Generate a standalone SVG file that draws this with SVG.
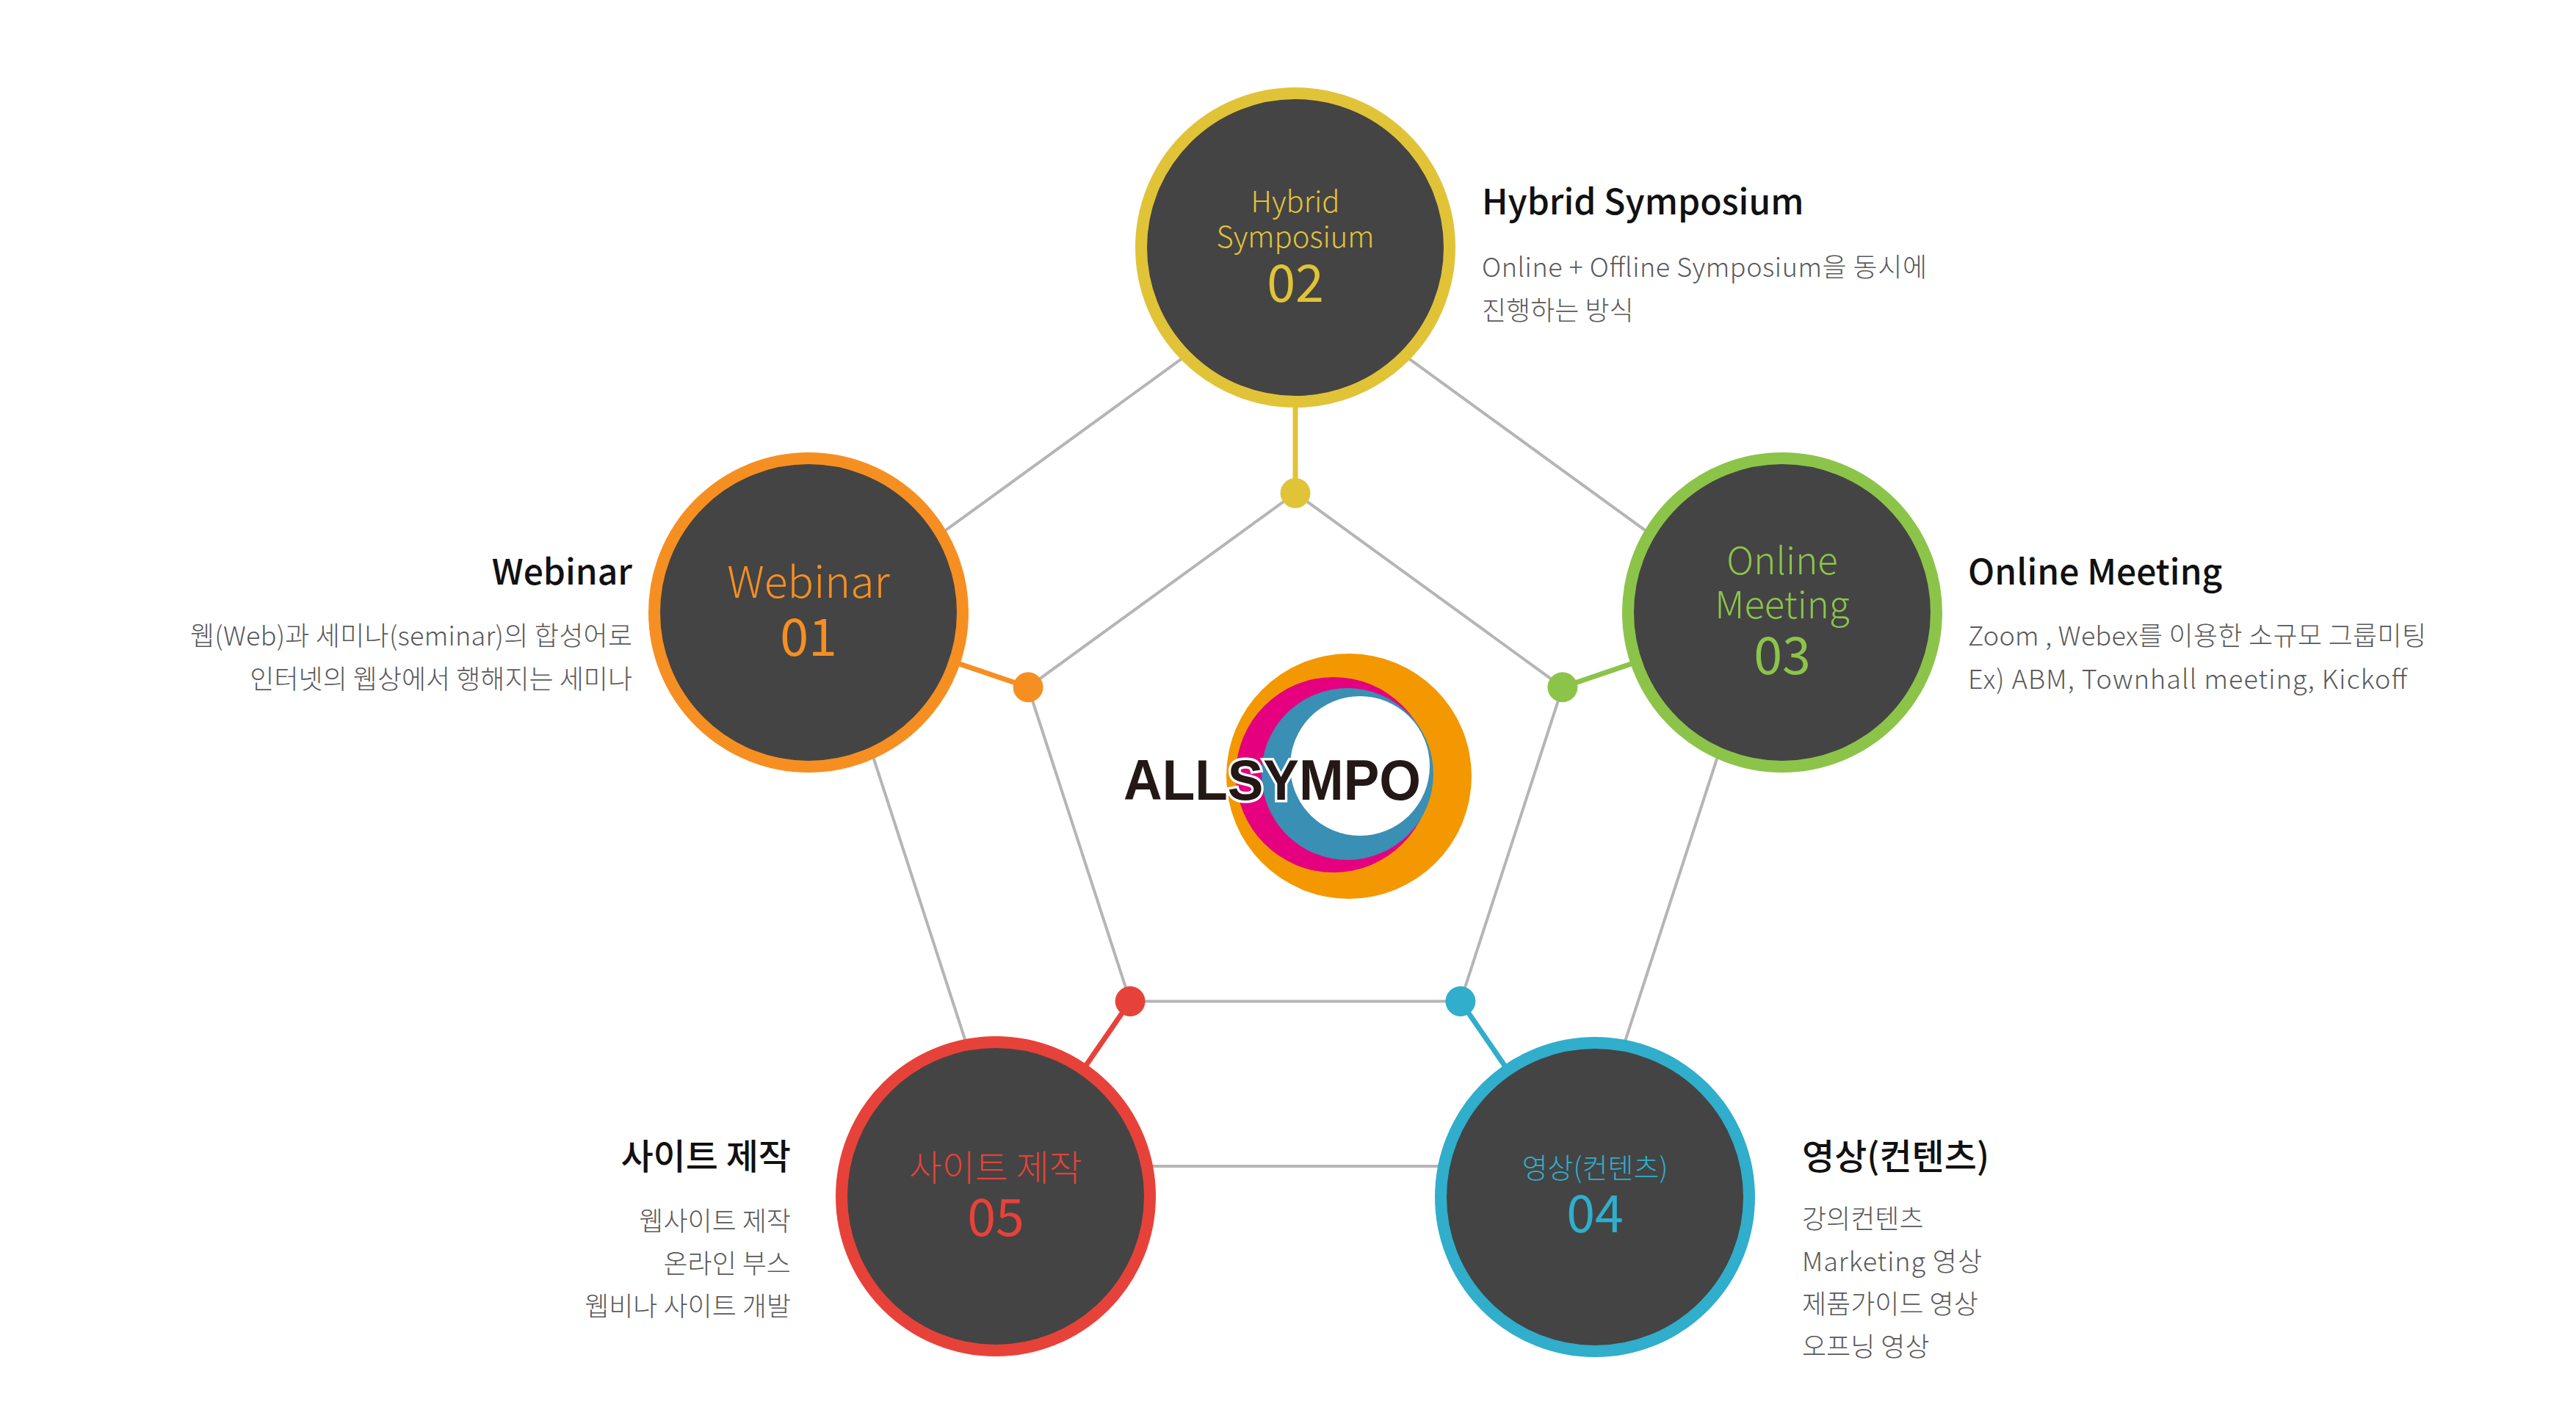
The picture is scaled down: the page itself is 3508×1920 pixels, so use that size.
<svg xmlns="http://www.w3.org/2000/svg" width="3508" height="1920" viewBox="0 0 3508 1920">
<style>
.bg{fill:#ffffff}
.gray{stroke:#b5b5b5;stroke-width:4;fill:none}
.ring{fill:#444444;stroke-width:16}
.lbl{font-family:"Noto Sans CJK KR","Noto Sans",sans-serif;font-weight:300;text-anchor:middle}
.num{font-family:"Noto Sans CJK KR","Noto Sans",sans-serif;font-weight:400;text-anchor:middle;font-size:70px}
.ttl{font-family:"Noto Sans CJK KR","Noto Sans",sans-serif;font-weight:500;font-size:48px;fill:#111111}
.dsc{font-family:"Noto Sans CJK KR","Noto Sans",sans-serif;font-weight:300;font-size:36px;fill:#595959}
.end{text-anchor:end}
.c1{stroke:#F68F22;fill:#F68F22}
.c2{stroke:#E1C338;fill:#E1C338}
.c3{stroke:#8CC44A;fill:#8CC44A}
.c4{stroke:#30AECC;fill:#30AECC}
.c5{stroke:#E74239;fill:#E74239}
.conn{stroke-width:7}
</style>
<rect class="bg" x="0" y="0" width="3508" height="1920"/>

<g id="connectors">
  <polygon class="gray" points="1764,376 2401.2,839 2157.8,1588 1370.2,1588 1126.8,839"/>
  <polygon class="gray" points="1764,671.4 2127.9,935.8 1988.9,1363.5 1539.1,1363.5 1400.1,935.8"/>
  <line class="c2 conn" x1="1764" y1="337" x2="1764" y2="671.4"/>
  <line class="c1 conn" x1="1101" y1="834" x2="1400.1" y2="935.8"/>
  <line class="c3 conn" x1="2427" y1="834" x2="2127.9" y2="935.8"/>
  <line class="c5 conn" x1="1356" y1="1629" x2="1539.1" y2="1363.5"/>
  <line class="c4 conn" x1="2172" y1="1630" x2="1988.9" y2="1363.5"/>
  <circle class="c2" cx="1764" cy="671.4" r="20" stroke="none"/>
  <circle class="c1" cx="1400.1" cy="935.8" r="20" stroke="none"/>
  <circle class="c3" cx="2127.9" cy="935.8" r="20" stroke="none"/>
  <circle class="c5" cx="1539.1" cy="1363.5" r="20" stroke="none"/>
  <circle class="c4" cx="1988.9" cy="1363.5" r="20" stroke="none"/>
</g>

<g id="logo">
  <circle cx="1837" cy="1057" r="167" fill="#F39800"/>
  <circle cx="1816" cy="1055" r="133" fill="#E4007F"/>
  <circle cx="1835" cy="1054" r="117" fill="#3A8FB4"/>
  <circle cx="1852" cy="1043" r="95" fill="#ffffff"/>
  <text x="1530" y="1089" font-family="'Liberation Sans',Arial,sans-serif" font-weight="700" font-size="78" fill="#231815" stroke="#ffffff" stroke-width="7" paint-order="stroke" textLength="405" lengthAdjust="spacingAndGlyphs">ALLSYMPO</text>
</g>

<g id="node-02">
  <circle class="ring" cx="1764" cy="337" r="210" stroke="#E1C338"/>
  <text class="lbl" x="1764" y="289" font-size="40" fill="#E1C338">Hybrid</text>
  <text class="lbl" x="1764" y="337" font-size="40" fill="#E1C338">Symposium</text>
  <text class="num" x="1764" y="411" fill="#E1C338">02</text>
  <text class="ttl" x="2018" y="292">Hybrid Symposium</text>
  <text class="dsc" x="2018" y="377" textLength="606">Online + Offline Symposium을 동시에</text>
  <text class="dsc" x="2018" y="436">진행하는 방식</text>
</g>

<g id="node-01">
  <circle class="ring" cx="1101" cy="834" r="210" stroke="#F68F22"/>
  <text class="lbl" x="1101" y="814" font-size="59" fill="#F68F22">Webinar</text>
  <text class="num" x="1101" y="893" fill="#F68F22">01</text>
  <text class="ttl end" x="861" y="796">Webinar</text>
  <text class="dsc end" x="861" y="879" textLength="602">웹(Web)과 세미나(seminar)의 합성어로</text>
  <text class="dsc end" x="861" y="938">인터넷의 웹상에서 행해지는 세미나</text>
</g>

<g id="node-03">
  <circle class="ring" cx="2427" cy="834" r="210" stroke="#8CC44A"/>
  <text class="lbl" x="2427" y="782" font-size="51" fill="#8CC44A">Online</text>
  <text class="lbl" x="2427" y="842" font-size="51" fill="#8CC44A">Meeting</text>
  <text class="num" x="2427" y="918" fill="#8CC44A">03</text>
  <text class="ttl" x="2680" y="796">Online Meeting</text>
  <text class="dsc" x="2680" y="879" textLength="624">Zoom , Webex를 이용한 소규모 그룹미팅</text>
  <text class="dsc" x="2680" y="938" textLength="598">Ex) ABM, Townhall meeting, Kickoff</text>
</g>

<g id="node-05">
  <circle class="ring" cx="1356" cy="1629" r="210" stroke="#E74239"/>
  <text class="lbl" x="1356" y="1608" font-size="49" fill="#E74239">사이트 제작</text>
  <text class="num" x="1356" y="1683" fill="#E74239">05</text>
  <text class="ttl end" x="1077" y="1592">사이트 제작</text>
  <text class="dsc end" x="1077" y="1676">웹사이트 제작</text>
  <text class="dsc end" x="1077" y="1734">온라인 부스</text>
  <text class="dsc end" x="1077" y="1792">웹비나 사이트 개발</text>
</g>

<g id="node-04">
  <circle class="ring" cx="2172" cy="1630" r="210" stroke="#30AECC"/>
  <text class="lbl" x="2172" y="1604" font-size="38" fill="#30AECC">영상(컨텐츠)</text>
  <text class="num" x="2172" y="1678" fill="#30AECC">04</text>
  <text class="ttl" x="2454" y="1592">영상(컨텐츠)</text>
  <text class="dsc" x="2454" y="1673">강의컨텐츠</text>
  <text class="dsc" x="2454" y="1731" textLength="245">Marketing 영상</text>
  <text class="dsc" x="2454" y="1789">제품가이드 영상</text>
  <text class="dsc" x="2454" y="1847">오프닝 영상</text>
</g>
</svg>
